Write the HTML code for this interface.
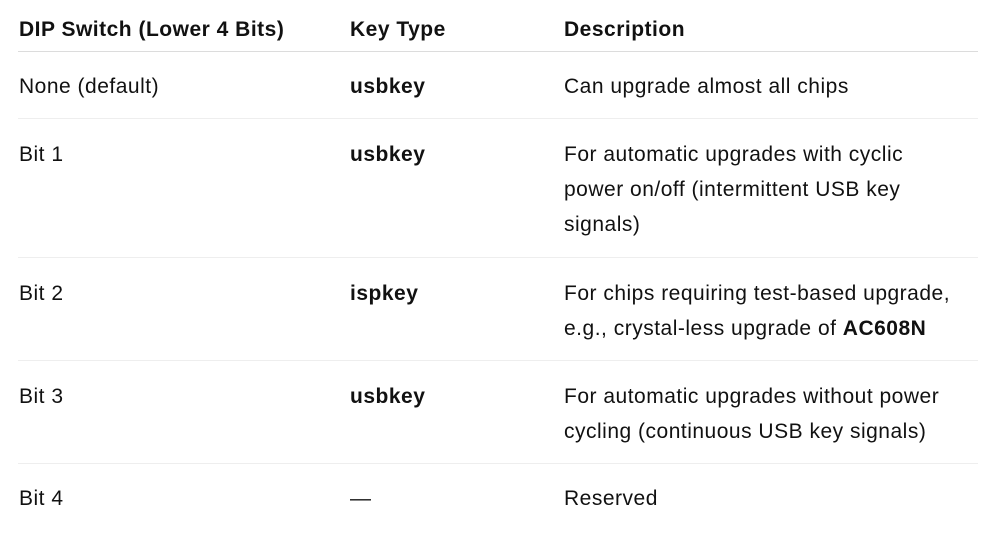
<!DOCTYPE html>
<html><head><meta charset="utf-8"><style>
html,body{margin:0;padding:0;background:#fff;width:989px;height:535px;overflow:hidden;position:relative}
body{font-family:"Liberation Sans",Arial,sans-serif;font-size:21px;letter-spacing:0.5px;color:#111}
.t{position:absolute;line-height:35px;white-space:nowrap}
b,.b{font-weight:bold}
.l{position:absolute;left:18px;width:960px;height:1px;background:#eeeeee}
</style></head><body>
<div class="t b" style="left:19px;top:12px">DIP Switch (Lower 4 Bits)</div>
<div class="t b" style="left:350px;top:12px">Key Type</div>
<div class="t b" style="left:564px;top:12px">Description</div>
<div class="l" style="top:51px;background:#dcdcdc"></div>

<div class="t" style="left:19px;top:69px">None (default)</div>
<div class="t b" style="left:350px;top:69px">usbkey</div>
<div class="t" style="left:564px;top:69px">Can upgrade almost all chips</div>
<div class="l" style="top:118px"></div>

<div class="t" style="left:19px;top:137px">Bit 1</div>
<div class="t b" style="left:350px;top:137px">usbkey</div>
<div class="t" style="left:564px;top:137px">For automatic upgrades with cyclic<br>power on/off (intermittent USB key<br>signals)</div>
<div class="l" style="top:257px"></div>

<div class="t" style="left:19px;top:276px">Bit 2</div>
<div class="t b" style="left:350px;top:276px">ispkey</div>
<div class="t" style="left:564px;top:276px">For chips requiring test-based upgrade,<br>e.g., crystal-less upgrade of <b>AC608N</b></div>
<div class="l" style="top:360px"></div>

<div class="t" style="left:19px;top:379px">Bit 3</div>
<div class="t b" style="left:350px;top:379px">usbkey</div>
<div class="t" style="left:564px;top:379px">For automatic upgrades without power<br>cycling (continuous USB key signals)</div>
<div class="l" style="top:463px"></div>

<div class="t" style="left:19px;top:481px">Bit 4</div>
<div class="t" style="left:350px;top:481px">—</div>
<div class="t" style="left:564px;top:481px">Reserved</div>
</body></html>
